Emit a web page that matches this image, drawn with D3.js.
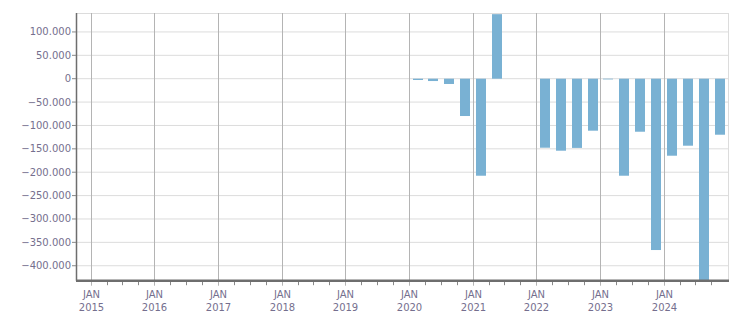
<!DOCTYPE html>
<html><head><meta charset="utf-8">
<script src="https://cdn.jsdelivr.net/npm/d3@7"></script>
<style>
html,body{margin:0;padding:0;background:#fff;}
svg{display:block;font-family:"DejaVu Sans",Verdana,sans-serif;}
</style></head>
<body><svg id="c" width="751" height="313"></svg>
<script>
const quarters = ["2020-01","2020-04","2020-07","2020-10","2021-01","2021-04","2022-01","2022-04","2022-07","2022-10","2023-01","2023-04","2023-07","2023-10","2024-01","2024-04","2024-07","2024-10"];
const values = [-2800,-5000,-11300,-79800,-207500,138000,-147600,-154000,-148000,-111200,-1500,-207500,-113400,-366400,-164700,-143300,-440000,-119800];
const yTicks = [100000,50000,0,-50000,-100000,-150000,-200000,-250000,-300000,-350000,-400000];
const yearTicks = [2015,2016,2017,2018,2019,2020,2021,2022,2023,2024];

const W=751,H=313, L=76, R=728, T=13, B=280.7;
const svg=d3.select("#c");
const parse=d3.timeParse("%Y-%m");
const x=d3.scaleTime().domain([new Date(2014,9,5),new Date(2025,0,1)]).range([L,R]);
const y=d3.scaleLinear().domain([-432000,140500]).range([B,T]);
const fmt=v=>d3.format(",")(v).replace(/,/g,".");

// horizontal grid
svg.append("g").selectAll("line").data(yTicks).join("line")
  .attr("x1",L).attr("x2",R).attr("y1",d=>y(d)).attr("y2",d=>y(d))
  .attr("stroke","#dcdcdc").attr("stroke-width",1);
svg.append("line").attr("x1",L).attr("x2",R).attr("y1",T+0.5).attr("y2",T+0.5).attr("stroke","#dcdcdc");
svg.append("line").attr("x1",R+0.5).attr("x2",R+0.5).attr("y1",T).attr("y2",B).attr("stroke","#dcdcdc");

// vertical year grid
const yearDates=yearTicks.map(yr=>new Date(yr,0,1));
svg.append("g").selectAll("line").data(yearDates).join("line")
  .attr("x1",d=>Math.floor(x(d))+0.5).attr("x2",d=>Math.floor(x(d))+0.5)
  .attr("y1",T).attr("y2",B+5).attr("stroke","#b4b4b4").attr("stroke-width",1);

// bars
svg.append("clipPath").attr("id","pc").append("rect").attr("x",L).attr("y",T).attr("width",R-L).attr("height",B-T);
const bw=10;
svg.append("g").attr("clip-path","url(#pc)").selectAll("rect").data(quarters.map((q,i)=>({d:parse(q),v:values[i]}))).join("rect")
  .attr("x",d=>{const s=x(d.d), e=x(d3.timeMonth.offset(d.d,3)); return Math.round((s+e)/2-bw/2);})
  .attr("width",bw)
  .attr("y",d=>y(Math.max(0,d.v)))
  .attr("height",d=>Math.abs(y(d.v)-y(0)))
  .attr("fill","#79b1d3");

// minor quarterly ticks
const qTicks=d3.timeMonth.every(3).range(new Date(2014,9,1),new Date(2025,0,2)).filter(d=>d.getMonth()!==0 && x(d)>=L);
svg.append("g").selectAll("line").data(qTicks).join("line")
  .attr("x1",d=>Math.floor(x(d))+0.5).attr("x2",d=>Math.floor(x(d))+0.5)
  .attr("y1",B).attr("y2",B+4.5).attr("stroke","#888").attr("stroke-width",1);

// axes lines
svg.append("line").attr("x1",L+0.5).attr("x2",L+0.5).attr("y1",T).attr("y2",B).attr("stroke","#6e6e6e").attr("stroke-width",1.5);
svg.append("line").attr("x1",L).attr("x2",R+1).attr("y1",B).attr("y2",B).attr("stroke","#6e6e6e").attr("stroke-width",2.5);

// y tick marks & labels
const yg=svg.append("g");
yg.selectAll("line").data(yTicks).join("line")
  .attr("x1",L-4).attr("x2",L).attr("y1",d=>y(d)).attr("y2",d=>y(d)).attr("stroke","#888");
yg.selectAll("text").data(yTicks).join("text")
  .attr("x",L-5).attr("y",d=>y(d)).attr("dy","0.35em").attr("text-anchor","end")
  .attr("font-size","10px").attr("fill","#756f8e").text(fmt);

// x labels
const xg=svg.append("g").selectAll("g").data(yearDates).join("g")
  .attr("transform",d=>`translate(${Math.floor(x(d))+0.5},0)`);
xg.append("text").attr("y",298).attr("text-anchor","middle").attr("font-size","10px").attr("fill","#756f8e").text("JAN");
xg.append("text").attr("y",311).attr("text-anchor","middle").attr("font-size","10px").attr("fill","#756f8e").text(d=>d.getFullYear());
</script></body></html>
